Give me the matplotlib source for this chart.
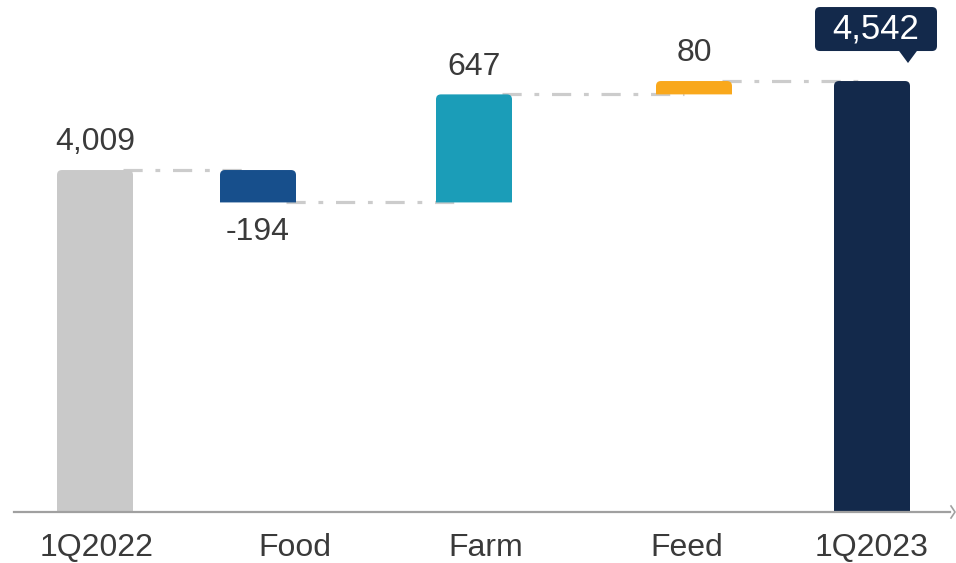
import matplotlib
matplotlib.use("Agg")
import matplotlib.pyplot as plt
from matplotlib.path import Path
from matplotlib.patches import PathPatch, FancyBboxPatch, Polygon

categories = ["1Q2022", "Food", "Farm", "Feed", "1Q2023"]
values = [4009, -194, 647, 80, 4542]
labels = ["4,009", "-194", "647", "80", "4,542"]
kinds = ["total", "delta", "delta", "delta", "total"]
colors = ["#c9c9c9", "#174f8c", "#1b9db8", "#f9a81c", "#13294b"]

# layout (pixel-like x units)
bar_x = [95, 258, 474, 694, 872]
tick_x = [97, 295, 486, 687, 872]
bar_w = 76
ymin = 1961
px_per_unit = 89 / 533.0

W, H = 956, 563
fig = plt.figure(figsize=(W / 100, H / 100), dpi=100)
ax = fig.add_axes([0, (H - 512) / H, 1, 512 / H])
ax.set_xlim(0, W)
ax.set_ylim(ymin, ymin + 512 / px_per_unit)
for s in ["top", "right", "left", "bottom"]:
    ax.spines[s].set_visible(False)
ax.set_yticks([])

font = "Liberation Sans"
txt_color = "#3a3a3a"

# compute bar extents
bottoms, tops = [], []
run = 0
for v, k in zip(values, kinds):
    if k == "total":
        b, t = ymin, v
        run = v
    else:
        b, t = (run, run + v) if v >= 0 else (run + v, run)
        run = run + v
    bottoms.append(b)
    tops.append(t)

r_px = 5
ry = r_px / px_per_unit

def rounded_bar(xc, b, t, color):
    x0, x1 = xc - bar_w / 2, xc + bar_w / 2
    verts = [(x0, b), (x0, t - ry), (x0, t), (x0 + r_px, t),
             (x1 - r_px, t), (x1, t), (x1, t - ry), (x1, b), (x0, b)]
    codes = [Path.MOVETO, Path.LINETO, Path.CURVE3, Path.CURVE3,
             Path.LINETO, Path.CURVE3, Path.CURVE3, Path.LINETO, Path.CLOSEPOLY]
    ax.add_patch(PathPatch(Path(verts, codes), facecolor=color, edgecolor="none", zorder=3))

for xc, b, t, c in zip(bar_x, bottoms, tops, colors):
    rounded_bar(xc, b, t, c)

# connectors
levels = []
run = 0
for v, k in zip(values, kinds):
    run = v if k == "total" else run + v
    levels.append(run)
for i in range(len(values) - 1):
    ax.plot([bar_x[i] + 28, bar_x[i + 1] - 10], [levels[i], levels[i]],
            color="#cccccc", lw=2.3, dashes=(6, 4, 1.5, 4), zorder=2,
            solid_capstyle="butt", dash_capstyle="butt")

# value labels
for i, (lab, v) in enumerate(zip(labels, values)):
    if i == len(values) - 1:
        continue
    if v >= 0 or kinds[i] == "total":
        ax.annotate(lab, (bar_x[i], tops[i]), xytext=(0, 20), textcoords="offset points",
                    ha="center", va="center", fontsize=23, color=txt_color, family=font)
    else:
        ax.annotate(lab, (bar_x[i], bottoms[i]), xytext=(0, -21), textcoords="offset points",
                    ha="center", va="center", fontsize=23, color=txt_color, family=font)

# callout for final total
navy = colors[-1]
cx = bar_x[-1] + 4
box_h = 44 / px_per_unit
box_bottom = tops[-1] + 30 / px_per_unit
ax.add_patch(FancyBboxPatch((cx - 61, box_bottom), 122, box_h,
                            boxstyle="round,pad=0,rounding_size=5",
                            mutation_aspect=1 / px_per_unit,
                            facecolor=navy, edgecolor="none", zorder=4, clip_on=False))
tip_x = cx + 32
ax.add_patch(Polygon([(tip_x - 9, box_bottom + 1), (tip_x + 9, box_bottom + 1),
                      (tip_x, box_bottom - 12 / px_per_unit)],
                     closed=True, facecolor=navy, edgecolor="none", zorder=4, clip_on=False))
ax.text(cx, box_bottom + box_h / 2, labels[-1], ha="center", va="center",
        fontsize=25, fontweight="normal", color="white", family=font, zorder=5)

# x axis
ax.plot([14, 950], [ymin, ymin], color="#a0a0a0", lw=1.6, zorder=5, clip_on=False)
ax.plot([951, 955, 951], [ymin + 6 / px_per_unit, ymin, ymin - 6 / px_per_unit],
        color="#a0a0a0", lw=1.2, zorder=5, clip_on=False)

ax.set_xticks(tick_x)
ax.set_xticklabels(categories, fontsize=23, color=txt_color, family=font)
ax.tick_params(axis="x", length=0, pad=15)

fig.savefig("out.png", dpi=100)
